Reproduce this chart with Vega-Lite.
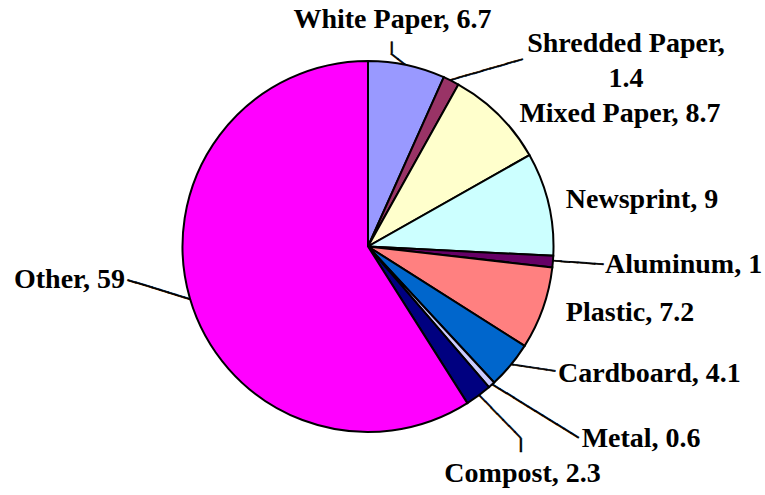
{
  "$schema": "https://vega.github.io/schema/vega-lite/v6.json",
  "width": 736,
  "height": 493,
  "autosize": {"type": "pad"},
  "padding": 0,
  "background": "white",
  "config": {
    "view": {"stroke": null},
    "text": {"font": "Liberation Serif", "fontSize": 28, "fontWeight": "bold", "fill": "black"}
  },
  "data": {
    "values": [
      {"cat": "White Paper", "value": 6.7, "label": "White Paper, 6.7"},
      {"cat": "Shredded Paper", "value": 1.4, "label": "Shredded Paper,\n1.4"},
      {"cat": "Mixed Paper", "value": 8.7, "label": "Mixed Paper, 8.7"},
      {"cat": "Newsprint", "value": 9, "label": "Newsprint, 9"},
      {"cat": "Aluminum", "value": 1, "label": "Aluminum, 1"},
      {"cat": "Plastic", "value": 7.2, "label": "Plastic, 7.2"},
      {"cat": "Cardboard", "value": 4.1, "label": "Cardboard, 4.1"},
      {"cat": "Metal", "value": 0.6, "label": "Metal, 0.6"},
      {"cat": "Compost", "value": 2.3, "label": "Compost, 2.3"},
      {"cat": "Other", "value": 59, "label": "Other, 59"}
    ]
  },
  "transform": [
    {"window": [{"op": "row_number", "as": "i"}]},
    {"stack": "value", "groupby": [], "sort": [{"field": "i", "order": "ascending"}], "as": ["v0", "v1"]}
  ],
  "layer": [
    {
      "transform": [
        {"fold": ["v0", "v1"], "as": ["k", "b"]},
        {"aggregate": [{"op": "mean", "field": "b", "as": "mid"}], "groupby": ["cat", "label"]}
      ],
      "layer": [
        {"transform": [{"filter": "datum.cat === 'White Paper'"}], "mark": {"type": "text", "font": "DejaVu Sans", "fontSize": 14, "fontWeight": "normal", "stroke": "black", "strokeWidth": 0.7, "align": "right", "baseline": "middle", "radius": 185.5, "angle": -142, "dx": 19.2, "text": "───"}, "encoding": {"theta": {"field": "mid", "type": "quantitative"}}},
        {"transform": [{"filter": "datum.cat === 'White Paper'"}], "mark": {"type": "text", "font": "DejaVu Sans", "fontSize": 18.8, "fontWeight": "normal", "stroke": "black", "strokeWidth": 0.5, "align": "right", "baseline": "middle", "radius": 185.5, "angle": -90, "dx": 23.1, "dy": -15.1, "text": "─"}, "encoding": {"theta": {"field": "mid", "type": "quantitative"}}},
        {"transform": [{"filter": "datum.cat === 'Shredded Paper'"}], "mark": {"type": "text", "font": "DejaVu Sans", "fontSize": 14, "fontWeight": "normal", "stroke": "black", "strokeWidth": 0.7, "align": "right", "baseline": "middle", "radius": 185.5, "angle": -16.1, "dx": 74.4, "text": "──────────"}, "encoding": {"theta": {"field": "mid", "type": "quantitative"}}},
        {"transform": [{"filter": "datum.cat === 'Aluminum'"}], "mark": {"type": "text", "font": "DejaVu Sans", "fontSize": 14, "fontWeight": "normal", "stroke": "black", "strokeWidth": 0.7, "align": "right", "baseline": "middle", "radius": 185.5, "angle": 3.9, "dx": 50.5, "text": "───────"}, "encoding": {"theta": {"field": "mid", "type": "quantitative"}}},
        {"transform": [{"filter": "datum.cat === 'Cardboard'"}], "mark": {"type": "text", "font": "DejaVu Sans", "fontSize": 14, "fontWeight": "normal", "stroke": "black", "strokeWidth": 0.7, "align": "right", "baseline": "middle", "radius": 185.5, "angle": 8.3, "dx": 44.9, "text": "──────"}, "encoding": {"theta": {"field": "mid", "type": "quantitative"}}},
        {"transform": [{"filter": "datum.cat === 'Metal'"}], "mark": {"type": "text", "font": "DejaVu Sans", "fontSize": 14, "fontWeight": "normal", "stroke": "black", "strokeWidth": 0.7, "align": "right", "baseline": "middle", "radius": 185.5, "angle": 31.7, "dx": 101.6, "text": "─────────────"}, "encoding": {"theta": {"field": "mid", "type": "quantitative"}}},
        {"transform": [{"filter": "datum.cat === 'Compost'"}], "mark": {"type": "text", "font": "DejaVu Sans", "fontSize": 14, "fontWeight": "normal", "stroke": "black", "strokeWidth": 0.7, "align": "right", "baseline": "middle", "radius": 185.5, "angle": 45.8, "dx": 59.7, "text": "────────"}, "encoding": {"theta": {"field": "mid", "type": "quantitative"}}},
        {"transform": [{"filter": "datum.cat === 'Compost'"}], "mark": {"type": "text", "font": "DejaVu Sans", "fontSize": 22.3, "fontWeight": "normal", "stroke": "black", "strokeWidth": 0.4, "align": "right", "baseline": "middle", "radius": 185.5, "angle": 90, "dx": 56.2, "dy": -41.6, "text": "─"}, "encoding": {"theta": {"field": "mid", "type": "quantitative"}}},
        {"transform": [{"filter": "datum.cat === 'Other'"}], "mark": {"type": "text", "font": "DejaVu Sans", "fontSize": 14, "fontWeight": "normal", "stroke": "black", "strokeWidth": 0.7, "align": "right", "baseline": "middle", "radius": 185.5, "angle": -162.9, "dx": 64.7, "text": "────────"}, "encoding": {"theta": {"field": "mid", "type": "quantitative"}}}
      ]
    },
    {
      "mark": {"type": "arc", "radius": 185.5, "stroke": "black", "strokeWidth": 2},
      "encoding": {
        "theta": {"field": "v0", "type": "quantitative", "stack": null, "scale": {"domain": [0, 100]}},
        "theta2": {"field": "v1"},
        "color": {
          "field": "cat",
          "type": "nominal",
          "legend": null,
          "scale": {
            "domain": ["White Paper", "Shredded Paper", "Mixed Paper", "Newsprint", "Aluminum", "Plastic", "Cardboard", "Metal", "Compost", "Other"],
            "range": ["#9999FF", "#993366", "#FFFFCC", "#CCFFFF", "#660066", "#FF8080", "#0066CC", "#CCCCFF", "#000080", "#FF00FF"]
          }
        }
      }
    },
    {
      "transform": [
        {"fold": ["v0", "v1"], "as": ["k", "b"]},
        {"aggregate": [{"op": "mean", "field": "b", "as": "mid"}], "groupby": ["cat", "label"]}
      ],
      "layer": [
        {"transform": [{"filter": "datum.cat === 'White Paper'"}], "mark": {"type": "text", "align": "center", "baseline": "alphabetic", "radius": 185.5, "dx": -14.3, "dy": -36.8}, "encoding": {"theta": {"field": "mid", "type": "quantitative"}, "text": {"field": "label"}}},
        {"transform": [{"filter": "datum.cat === 'Shredded Paper'"}], "mark": {"type": "text", "align": "center", "baseline": "alphabetic", "lineBreak": "\n", "lineHeight": 35, "radius": 185.5, "dx": 174.8, "dy": -29}, "encoding": {"theta": {"field": "mid", "type": "quantitative"}, "text": {"field": "label"}}},
        {"transform": [{"filter": "datum.cat === 'Mixed Paper'"}], "mark": {"type": "text", "align": "center", "baseline": "alphabetic", "radius": 185.5, "dx": 121.2, "dy": 6.8}, "encoding": {"theta": {"field": "mid", "type": "quantitative"}, "text": {"field": "label"}}},
        {"transform": [{"filter": "datum.cat === 'Newsprint'"}], "mark": {"type": "text", "align": "center", "baseline": "alphabetic", "radius": 185.5, "dx": 93.5, "dy": 4.2}, "encoding": {"theta": {"field": "mid", "type": "quantitative"}, "text": {"field": "label"}}},
        {"transform": [{"filter": "datum.cat === 'Aluminum'"}], "mark": {"type": "text", "align": "left", "baseline": "alphabetic", "radius": 185.5, "dx": 52.1, "dy": 11.7}, "encoding": {"theta": {"field": "mid", "type": "quantitative"}, "text": {"field": "label"}}},
        {"transform": [{"filter": "datum.cat === 'Plastic'"}], "mark": {"type": "text", "align": "center", "baseline": "alphabetic", "radius": 185.5, "dx": 87.1, "dy": 12.5}, "encoding": {"theta": {"field": "mid", "type": "quantitative"}, "text": {"field": "label"}}},
        {"transform": [{"filter": "datum.cat === 'Cardboard'"}], "mark": {"type": "text", "align": "left", "baseline": "alphabetic", "radius": 185.5, "dx": 47.4, "dy": 16.5}, "encoding": {"theta": {"field": "mid", "type": "quantitative"}, "text": {"field": "label"}}},
        {"transform": [{"filter": "datum.cat === 'Metal'"}], "mark": {"type": "text", "align": "left", "baseline": "alphabetic", "radius": 185.5, "dx": 90.1, "dy": 61.8}, "encoding": {"theta": {"field": "mid", "type": "quantitative"}, "text": {"field": "label"}}},
        {"transform": [{"filter": "datum.cat === 'Compost'"}], "mark": {"type": "text", "align": "center", "baseline": "alphabetic", "radius": 185.5, "dx": 44.1, "dy": 86.2}, "encoding": {"theta": {"field": "mid", "type": "quantitative"}, "text": {"field": "label"}}},
        {"transform": [{"filter": "datum.cat === 'Other'"}], "mark": {"type": "text", "align": "right", "baseline": "alphabetic", "radius": 185.5, "dx": -64.9, "dy": -10}, "encoding": {"theta": {"field": "mid", "type": "quantitative"}, "text": {"field": "label"}}}
      ]
    }
  ]
}
